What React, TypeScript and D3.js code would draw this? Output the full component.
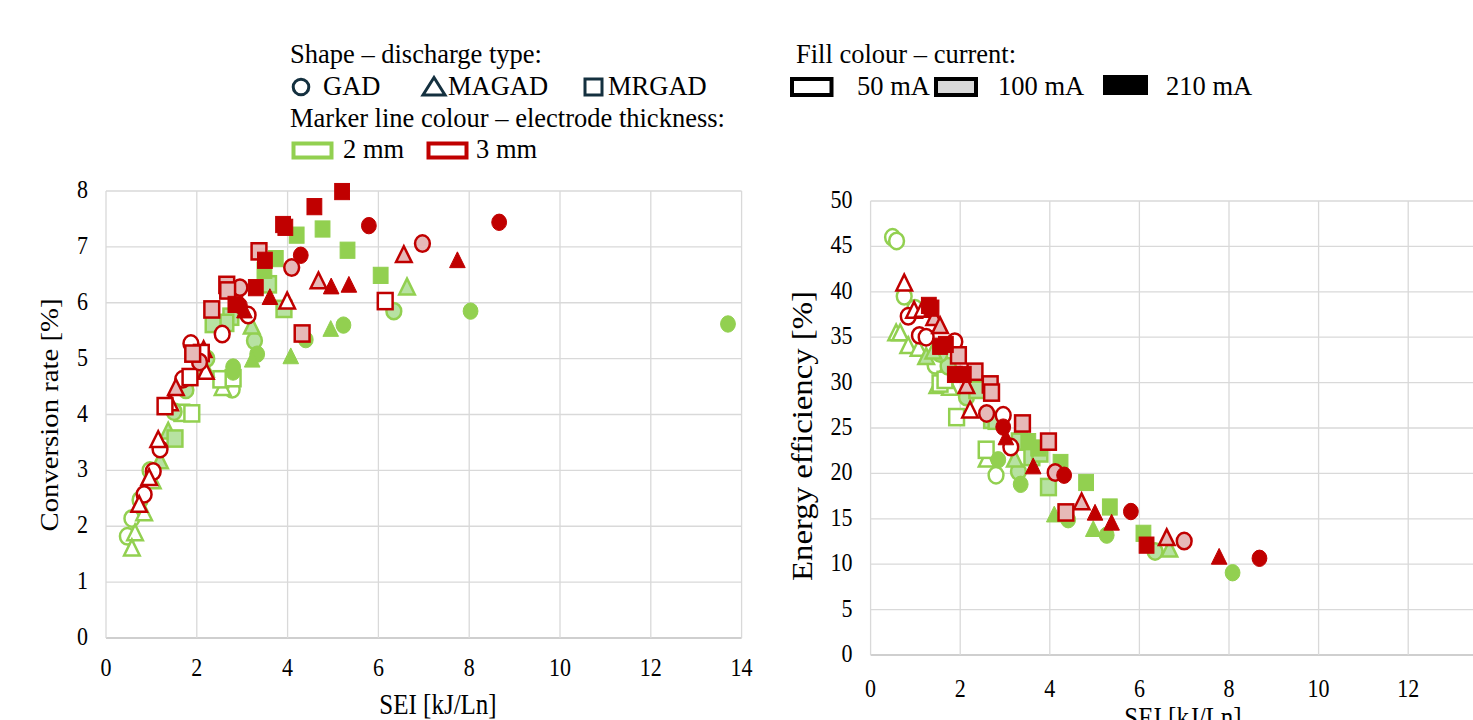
import React from 'react';
import * as d3 from 'd3';

const W = 1473;
const H = 720;
const GREEN = '#92d050';
const RED = '#c00000';
const LIGHT: Record<string, string> = { '2': '#b7e2a2', '3': '#e6b9b8' };
const FONT = '"Liberation Serif", "Times New Roman", serif';
const SY = 1.15; // axis text is a bit taller than wide in the source

const xTicks = [0, 2, 4, 6, 8, 10, 12, 14];
const convTicks = [0, 1, 2, 3, 4, 5, 6, 7, 8];
const effTicks = [0, 5, 10, 15, 20, 25, 30, 35, 40, 45, 50];

// [series, SEI kJ/Ln, value]; series = shape (c GAD, t MAGAD, s MRGAD) + thickness mm + '-' + current mA
const conv2mm: [string, number, number][] = [
  ['c2-50', 2.78, 4.45], ['c2-50', 0.97, 3.0], ['c2-50', 0.75, 2.47], ['c2-50', 0.57, 2.14], ['c2-50', 0.47, 1.82],
  ['t2-50', 2.57, 4.47], ['t2-50', 1.03, 2.8], ['t2-50', 0.84, 2.23], ['t2-50', 0.64, 1.87], ['t2-50', 0.57, 1.6],
  ['s2-50', 2.53, 4.63], ['s2-50', 2.8, 4.65], ['s2-50', 1.67, 4.03], ['s2-50', 1.89, 4.02],
  ['c2-100', 6.34, 5.85], ['c2-100', 3.27, 5.32], ['c2-100', 2.22, 5.0], ['c2-100', 1.76, 4.44], ['c2-100', 1.5, 4.05],
  ['t2-100', 6.63, 6.27], ['t2-100', 3.21, 5.57], ['t2-100', 2.2, 4.8], ['t2-100', 1.37, 3.69], ['t2-100', 1.19, 3.16],
  ['s2-100', 3.58, 6.33], ['s2-100', 3.92, 5.89], ['s2-100', 2.75, 5.75], ['s2-100', 2.64, 5.64], ['s2-100', 2.36, 5.62], ['s2-100', 1.52, 3.57],
  ['c2-210', 4.4, 5.34], ['c2-210', 5.23, 5.6], ['c2-210', 3.33, 5.08], ['c2-210', 2.8, 4.85], ['c2-210', 2.8, 4.76], ['c2-210', 8.03, 5.85], ['c2-210', 13.7, 5.62],
  ['t2-210', 4.95, 5.52], ['t2-210', 4.07, 5.03], ['t2-210', 3.22, 4.97],
  ['s2-210', 4.2, 7.21], ['s2-210', 4.77, 7.32], ['s2-210', 5.32, 6.94], ['s2-210', 3.74, 6.79], ['s2-210', 3.49, 6.58], ['s2-210', 6.05, 6.49],
];

const conv3mm: [string, number, number][] = [
  ['c3-50', 1.87, 5.27], ['c3-50', 2.56, 5.44], ['c3-50', 3.13, 5.78], ['c3-50', 1.69, 4.63], ['c3-50', 1.19, 3.38], ['c3-50', 1.04, 2.98], ['c3-50', 0.84, 2.57],
  ['t3-50', 3.99, 6.02], ['t3-50', 2.15, 5.15], ['t3-50', 2.2, 4.76], ['t3-50', 1.41, 4.2], ['t3-50', 1.15, 3.54], ['t3-50', 0.95, 2.86], ['t3-50', 0.73, 2.38],
  ['s3-50', 6.15, 6.03], ['s3-50', 2.1, 5.1], ['s3-50', 1.85, 4.67], ['s3-50', 1.3, 4.15],
  ['c3-100', 4.09, 6.63], ['c3-100', 6.97, 7.06], ['c3-100', 2.95, 6.27], ['c3-100', 2.06, 4.94],
  ['t3-100', 6.56, 6.85], ['t3-100', 4.68, 6.38], ['t3-100', 1.54, 4.47],
  ['s3-100', 3.37, 6.92], ['s3-100', 2.66, 6.32], ['s3-100', 2.68, 6.22], ['s3-100', 2.33, 5.88], ['s3-100', 4.32, 5.45], ['s3-100', 1.91, 5.09],
  ['c3-210', 5.79, 7.38], ['c3-210', 4.29, 6.85], ['c3-210', 8.66, 7.44], ['c3-210', 2.95, 5.95],
  ['t3-210', 4.96, 6.28], ['t3-210', 5.35, 6.31], ['t3-210', 3.61, 6.09], ['t3-210', 7.74, 6.75], ['t3-210', 3.05, 5.85],
  ['s3-210', 5.2, 7.99], ['s3-210', 4.59, 7.72], ['s3-210', 3.9, 7.4], ['s3-210', 3.95, 7.35], ['s3-210', 3.5, 6.76], ['s3-210', 3.3, 6.27], ['s3-210', 2.85, 5.97],
];

const eff2mm: [string, number, number][] = [
  ['c2-50', 0.49, 46.0], ['c2-50', 0.58, 45.6], ['c2-50', 0.75, 39.5], ['c2-50', 0.99, 38.2], ['c2-50', 1.44, 31.9], ['c2-50', 2.8, 19.8],
  ['t2-50', 0.57, 35.4], ['t2-50', 0.66, 35.4], ['t2-50', 0.84, 34.0], ['t2-50', 1.07, 33.7], ['t2-50', 1.49, 29.6], ['t2-50', 1.77, 29.4], ['t2-50', 2.59, 21.5],
  ['s2-50', 1.55, 29.9], ['s2-50', 1.66, 30.3], ['s2-50', 1.92, 26.2], ['s2-50', 2.58, 22.6],
  ['c2-100', 1.73, 31.8], ['c2-100', 1.55, 33.2], ['c2-100', 2.14, 28.4], ['c2-100', 3.3, 20.2], ['c2-100', 6.35, 11.4],
  ['t2-100', 1.24, 32.8], ['t2-100', 1.4, 33.4], ['t2-100', 3.22, 21.5], ['t2-100', 6.67, 11.6],
  ['s2-100', 2.37, 29.2], ['s2-100', 2.7, 25.9], ['s2-100', 2.8, 25.8], ['s2-100', 3.32, 23.5], ['s2-100', 3.6, 21.8], ['s2-100', 3.78, 22.2], ['s2-100', 3.97, 18.5],
  ['c2-210', 2.85, 21.5], ['c2-210', 3.35, 18.8], ['c2-210', 4.41, 14.9], ['c2-210', 5.27, 13.2], ['c2-210', 8.08, 9.06],
  ['t2-210', 4.1, 15.4], ['t2-210', 4.97, 13.8],
  ['s2-210', 3.52, 23.5], ['s2-210', 3.74, 22.8], ['s2-210', 4.24, 21.2], ['s2-210', 4.81, 19.0], ['s2-210', 5.34, 16.3], ['s2-210', 6.09, 13.4],
];

const eff3mm: [string, number, number][] = [
  ['c3-50', 0.84, 37.3], ['c3-50', 1.09, 35.2], ['c3-50', 1.24, 35.0], ['c3-50', 1.88, 34.5], ['c3-50', 2.96, 26.4], ['c3-50', 3.13, 22.9],
  ['t3-50', 0.75, 40.9], ['t3-50', 0.97, 37.9], ['t3-50', 1.16, 38.0], ['t3-50', 2.22, 26.9],
  ['c3-100', 2.59, 26.6], ['c3-100', 4.12, 20.1], ['c3-100', 7.0, 12.55],
  ['t3-100', 1.42, 37.1], ['t3-100', 1.55, 36.2], ['t3-100', 2.14, 29.6], ['t3-100', 4.71, 16.8], ['t3-100', 6.61, 12.85],
  ['s3-100', 1.96, 33.0], ['s3-100', 2.33, 31.2], ['s3-100', 2.67, 29.8], ['s3-100', 2.7, 28.9], ['s3-100', 3.39, 25.5], ['s3-100', 3.97, 23.5], ['s3-100', 4.36, 15.7],
  ['c3-210', 2.96, 25.1], ['c3-210', 4.32, 19.8], ['c3-210', 5.81, 15.8], ['c3-210', 8.68, 10.65],
  ['t3-210', 3.02, 23.9], ['t3-210', 3.63, 20.7], ['t3-210', 5.01, 15.6], ['t3-210', 5.38, 14.5], ['t3-210', 7.78, 10.75],
  ['s3-210', 1.3, 38.5], ['s3-210', 1.36, 38.2], ['s3-210', 1.55, 34.0], ['s3-210', 1.68, 34.2], ['s3-210', 1.88, 30.9], ['s3-210', 2.08, 30.9], ['s3-210', 6.16, 12.1],
];

function Marker({ id, cx, cy }: { id: string; cx: number; cy: number }) {
  const shape = id[0];
  const thick = id[1];
  const cur = id.split('-')[1];
  const stroke = thick === '2' ? GREEN : RED;
  const fill = cur === '50' ? '#ffffff' : cur === '100' ? LIGHT[thick] : stroke;
  const sw = cur === '210' ? 1 : 2.5;
  if (shape === 'c') {
    return <ellipse cx={cx} cy={cy} rx={7.4} ry={8.2} fill={fill} stroke={stroke} strokeWidth={sw} />;
  }
  if (shape === 's') {
    return <rect x={cx - 7.4} y={cy - 8.1} width={14.8} height={16.2} fill={fill} stroke={stroke} strokeWidth={sw} />;
  }
  const p = `M${cx},${cy - 9}L${cx + 7.8},${cy + 6.8}L${cx - 7.8},${cy + 6.8}Z`;
  return <path d={p} fill={fill} stroke={stroke} strokeWidth={sw} strokeLinejoin="miter" />;
}

function STxt({ x, y, anchor = 'middle', size, rotate = false, children }: any) {
  const t = `translate(${x},${y}) scale(1,${SY})${rotate ? ' rotate(-90)' : ''}`;
  return (
    <text transform={t} textAnchor={anchor} fontFamily={FONT} fontSize={size} fill="#000">
      {children}
    </text>
  );
}

function Panel({ left, bottom, top, unit, yMax, yTicks, data, yTitle, yTitleSize, yTitlePos, xTitlePos, xLabelOff }: any) {
  const x = d3.scaleLinear().domain([0, 14]).range([left, left + 14 * unit]);
  const y = d3.scaleLinear().domain([0, yMax]).range([bottom, top]);
  const shownX = xTicks.filter((t) => x(t) < W - 8);
  return (
    <g>
      {yTicks.map((t: number) => (
        <line key={'h' + t} x1={x(0)} x2={x(14)} y1={y(t)} y2={y(t)} stroke={t === 0 ? '#bfbfbf' : '#d9d9d9'} strokeWidth={1.3} />
      ))}
      {xTicks.map((t) => (
        <line key={'v' + t} x1={x(t)} x2={x(t)} y1={y(0)} y2={y(yMax)} stroke="#d9d9d9" strokeWidth={1.3} />
      ))}
      {yTicks.map((t: number) => (
        <STxt key={'yl' + t} x={x(0) - 18} y={y(t) + 7} anchor="end" size={22}>{t}</STxt>
      ))}
      {shownX.map((t) => (
        <STxt key={'xl' + t} x={x(t)} y={y(0) + xLabelOff} size={22}>{t}</STxt>
      ))}
      {data.map((d: [string, number, number], i: number) => (
        <Marker key={i} id={d[0]} cx={x(d[1])} cy={y(d[2])} />
      ))}
      <STxt x={yTitlePos[0]} y={yTitlePos[1]} size={yTitleSize} rotate>{yTitle}</STxt>
      <STxt x={xTitlePos[0]} y={xTitlePos[1]} size={25}>SEI [kJ/Ln]</STxt>
    </g>
  );
}

function Legend() {
  const txt = (x: number, y: number, s: string) => (
    <text x={x} y={y} fontFamily={FONT} fontSize={26.5} fill="#000">{s}</text>
  );
  const dark = '#14303f';
  return (
    <g>
      {txt(290, 63, 'Shape \u2013 discharge type:')}
      <circle cx={301} cy={87} r={7.8} fill="none" stroke={dark} strokeWidth={3} />
      {txt(323, 95, 'GAD')}
      <path d="M434,77.5L445,95L423,95Z" fill="none" stroke={dark} strokeWidth={3} />
      {txt(448, 95, 'MAGAD')}
      <rect x={585} y={79} width={17} height={16} fill="none" stroke={dark} strokeWidth={3} />
      {txt(608, 95, 'MRGAD')}
      {txt(290, 127, 'Marker line colour \u2013 electrode thickness:')}
      <rect x={293.5} y={143.5} width={38} height={14} fill="#fff" stroke={GREEN} strokeWidth={4} />
      {txt(343, 158, '2 mm')}
      <rect x={428.5} y={143.5} width={38} height={14} fill="#fff" stroke={RED} strokeWidth={4} />
      {txt(476, 158, '3 mm')}
      {txt(796, 63, 'Fill colour \u2013 current:')}
      <rect x={792} y={79} width={39.5} height={16} fill="#fff" stroke="#000" strokeWidth={4} />
      {txt(857, 95, '50 mA')}
      <rect x={936} y={79} width={40} height={16} fill="#d9d9d9" stroke="#000" strokeWidth={4} />
      {txt(998, 95, '100 mA')}
      <rect x={1103} y={75} width={45} height={20} fill="#000" />
      {txt(1166, 95, '210 mA')}
    </g>
  );
}

export default function App() {
  return (
    <svg width={W} height={H} style={{ position: 'absolute', left: 0, top: 0, background: '#fff' }}>
      <rect width={W} height={H} fill="#fff" />
      <Legend />
      <Panel
        left={106} bottom={638} top={191} unit={45.4} yMax={8} yTicks={convTicks}
        data={[...conv2mm, ...conv3mm]} yTitle="Conversion rate [%]" yTitleSize={25}
        yTitlePos={[58, 415]} xTitlePos={[438, 714]} xLabelOff={38}
      />
      <Panel
        left={870.6} bottom={655} top={201} unit={44.8} yMax={50} yTicks={effTicks}
        data={[...eff2mm, ...eff3mm]} yTitle="Energy efficiency [%]" yTitleSize={28.5}
        yTitlePos={[812, 436]} xTitlePos={[1183, 727]} xLabelOff={42}
      />
    </svg>
  );
}
